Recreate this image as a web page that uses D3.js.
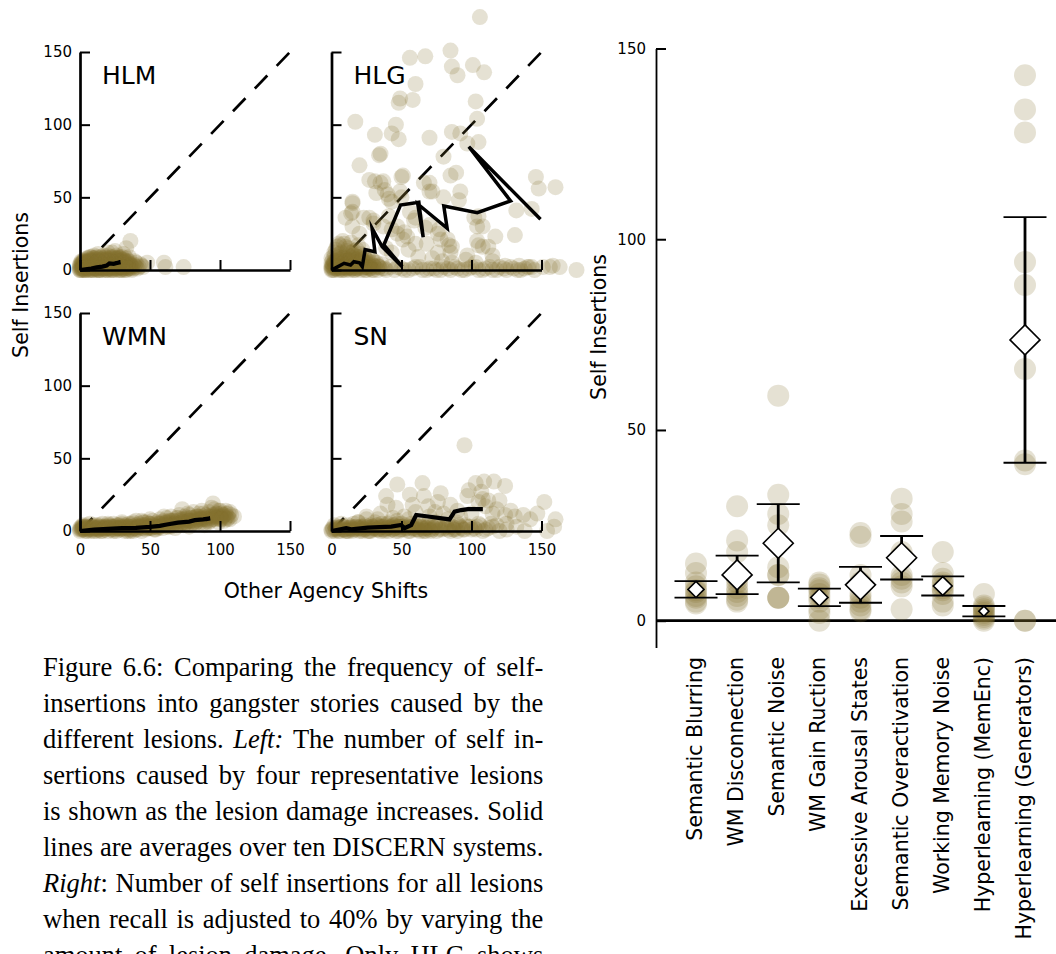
<!DOCTYPE html>
<html>
<head>
<meta charset="utf-8">
<script src="https://cdn.jsdelivr.net/npm/d3@7"></script>
<style>
  html, body { margin: 0; padding: 0; background: #fff; }
  svg { display: block; }
</style>
</head>
<body>
<svg id="fig" width="1056" height="954"></svg>
<script>
// ---------- Left: self insertions vs. other agency shifts, one panel per lesion ----------
const panelNames = ["HLM", "HLG", "WMN", "SN"];
const axisTicks = [0, 50, 100, 150];

// individual runs (other agency shifts, self insertions)
const hlmPoints = [
  [0,0],[1,1],[2,0],[3,2],[4,1],[5,3],[6,0],[7,2],[8,4],[9,1],[10,3],[11,5],[12,2],[13,0],[14,4],
  [15,6],[16,2],[17,1],[18,5],[19,3],[20,7],[21,2],[22,4],[23,0],[24,6],[25,3],[26,8],[27,1],[28,5],
  [29,3],[30,7],[31,2],[32,4],[33,0],[34,3],[35,6],[36,1],[38,4],[40,2],[42,2],[13,11],[23,12],
  [33,15],[36,20],[48,5],[60,5],[61,2],[74,2],[2,6],[5,8],[8,9],[3,4],[0,3],[1,5],[6,6],[10,8],
  [12,7],[15,9],[18,9],[20,10],[22,9],[26,10],[28,9],[9,6],[14,1],[19,0],[24,1],[29,0],[37,3],
  [39,6],[44,3],[4,2],[7,4],[11,1],[16,4],[21,5],[25,2],[30,1],
  [0,1],[1,0],[2,2],[3,0],[4,4],[5,1],[6,3],[7,0],[8,2],[9,4],[10,1],[11,3],[12,0],[13,5],[14,2],
  [15,4],[16,0],[17,3],[18,2],[19,5],[20,1],[21,3],[22,0],[23,5],[24,2],[25,4],[26,1],[27,6],[28,2],
  [29,4],[30,0],[31,5],[32,1],[33,3],[34,6],[35,2],[36,4],[37,0],[38,1],[39,3],[40,5],[41,1],[43,4],
  [45,2],[3,6],[6,8],[9,7],[12,9],[15,7],[18,7],[21,8],[24,9],[27,7],[30,9],[33,8],[20,12],[25,13],
  [17,10],[10,10],[7,9],[31,11],[35,9],[2,3],[5,5],[8,6],[11,7],[14,6],[17,5],[20,4],[23,3],[26,5],
  [29,6],[32,6],[1,3],[4,6],[7,7],[10,6],[13,8],[16,7],[19,8],[22,6],[25,7],[28,8],
  [0,2],[1,4],[2,1],[3,3],[4,0],[5,2],[6,4],[7,1],[8,3],[9,0],[10,2],[11,4],[12,1],[13,3],[14,0],
  [15,2],[16,4],[17,1],[18,3],[19,1],[20,3],[21,1],[22,3],[23,2],[24,4],[25,1],[26,3],[27,2],[28,4],
  [29,2],[30,4],[31,1],[32,3],[33,2],[34,4],[35,1],[36,3],[37,2],[0,4],[2,5],[4,5],[6,5],[8,5],
  [10,5],[12,5],[14,5],[16,6],[18,6],[20,6],[22,6],[24,5],[26,6],[28,6],[30,5],[32,5],[34,5],[1,6],
  [3,7],[5,6],[7,6],[9,8],[11,8],[13,6],[15,8],[17,8],[19,7],[21,7],[23,8],[25,8],[27,8],[29,8],
  [31,7],[33,6],[0,0],[2,1],[4,0],[6,1],[8,0],[10,0],[12,1],[14,0],[16,1],[18,0],[20,0],[22,1],
  [24,0],[26,0],[28,0],[30,2],[32,0],[34,1]
];
const hlgPoints = [
  [106,174],[56,146],[67,147],[85,151],[86,140],[90,134],[101,141],[109,136],[60,128],[49,118],
  [48,115],[58,117],[103,116],[17,102],[104,104],[46,100],[31,93],[43,94],[48,90],[70,91],[86,95],
  [92,94],[97,87],[105,88],[35,80],[34,79],[80,78],[20,72],[27,62],[31,61],[37,61],[35,60],[40,52],
  [43,47],[51,65],[50,64],[38,55],[66,60],[70,60],[72,54],[85,65],[89,67],[146,64],[148,56],
  [160,57],[15,47],[15,46],[14,39],[15,40],[32,53],[41,49],[49,54],[50,50],[56,40],[70,54],[80,50],
  [92,54],[91,48],[105,37],[102,36],[108,30],[132,41],[143,42],[27,36],[30,32],[23,36],[30,34],
  [41,37],[47,30],[52,26],[59,34],[60,36],[67,29],[70,31],[77,28],[76,25],[83,21],[78,21],[84,17],
  [86,16],[104,30],[117,23],[131,24],[108,16],[105,17],[112,16],[104,20],[60,18],[68,18],[76,12],
  [85,12],[97,10],[115,10],[51,21],[54,23],[37,30],[43,28],[47,25],[10,36],[15,30],[20,25],[5,18],
  [10,16],[15,12],[39,15],[43,12],[55,14],[62,9],[72,8],[79,6],[86,5],[96,7],[103,5],[115,6],
  [124,3],[134,3],[141,2],[151,2],[158,3],
  [0,0],[1,2],[2,5],[3,1],[4,8],[5,3],[6,11],[7,6],[8,2],[9,9],[10,4],[11,13],[12,1],[13,7],[14,3],
  [15,10],[16,5],[18,2],[20,6],[22,3],[24,8],[3,14],[6,17],[8,20],[2,10],[0,5],[1,7],[5,0],[10,0],
  [12,15],[16,13],[18,9],[21,11],[25,5],[28,2],[30,6],[33,3],
  [0,2],[1,4],[2,1],[3,6],[4,3],[5,9],[6,4],[7,12],[8,6],[9,1],[10,8],[11,3],[12,10],[13,4],[14,12],
  [15,1],[16,8],[17,4],[18,14],[19,6],[20,3],[21,8],[22,14],[23,5],[24,2],[26,9],[27,4],[29,7],
  [4,16],[9,18],[14,19],[19,17],[2,12],[0,8],[1,0],[3,3],[5,5],[7,1],[9,4],[11,6],[13,2],[17,1],
  [0,1],[1,3],[2,6],[3,2],[4,5],[5,7],[6,2],[7,4],[8,8],[9,5],[10,2],[11,7],[12,4],[13,9],[14,6],
  [15,4],[16,10],[17,7],[18,5],[19,3],[20,9],[21,5],[22,7],[23,10],[24,5],[25,2],[26,6],[27,3],
  [28,5],[30,3],[32,5],[34,2],[36,4],[0,3],[2,3],[4,6],[6,7],[8,4],[10,6],[12,6],[14,8],[16,3],
  [18,7],[20,4],
  [2,0],[4,1],[7,0],[9,2],[11,1],[13,0],[15,2],[17,0],[19,1],[21,0],[23,2],[25,0],[27,1],[29,0],
  [31,2],[33,0],[36,1],[39,0],[42,2],[45,0],[50,1],[55,0],[60,2],[65,0],[70,1],[75,0],[80,2],[85,0],
  [90,1],[95,0],[100,2],[105,0],[110,1],[115,0],[120,2],[125,0],[130,1],[135,0],[140,2],[145,0],
  [156,2],[163,2],[175,0],[6,1],[8,0],[12,2],[14,1],[16,0],[18,1],[20,2],[22,1],[24,0],[26,2],
  [28,1],[30,0],[34,2],[38,1],[47,2],[52,0],[58,1],[63,2],[68,0],[73,1],[78,0],[83,1],[88,2],[93,0],
  [98,1],[103,2],[108,0],[113,2],[118,0],[123,1],[128,2],[133,0],[138,1],[143,2]
];
const wmnPoints = [
  [0,0],[1,2],[2,4],[3,1],[4,3],[5,0],[6,2],[7,5],[8,1],[9,3],[10,0],[11,2],[12,4],[13,1],[14,3],
  [15,0],[16,5],[17,2],[18,1],[19,3],[20,0],[21,4],[22,2],[23,1],[24,5],[25,3],[26,0],[27,2],[28,4],
  [29,1],[30,6],[31,3],[32,1],[33,4],[34,2],[35,5],[36,0],[37,3],[38,6],[39,2],[40,4],[41,1],[42,5],
  [43,3],[44,7],[45,2],[46,4],[47,1],[48,6],[49,3],[50,5],[51,2],[52,7],[53,4],[54,1],[55,6],[56,3],
  [57,8],[58,5],[59,2],[60,7],[61,4],[62,9],[63,3],[64,6],[65,10],[66,4],[67,7],[68,2],[69,9],[70,5],
  [71,11],[72,8],[73,15],[74,4],[75,10],[76,6],[77,12],[78,3],[79,9],[80,7],[81,13],[82,5],[83,10],
  [84,8],[85,12],[86,6],[87,14],[88,9],[89,4],[90,11],[91,7],[92,13],[93,9],[94,16],[95,19],[96,8],
  [97,12],[98,10],[99,6],[100,14],[101,9],[102,11],[103,7],[104,14],[105,10],[106,12],[107,8],
  [108,11],[2,1],[5,2],[8,3],[12,2],[15,2],[18,3],[22,1],[25,1],[28,2],[32,2],[35,1],[38,2],
  [0,1],[3,3],[6,1],[9,2],[12,0],[14,1],[17,3],[20,2],[23,3],[26,2],[29,3],[32,0],[35,3],[38,0],
  [41,3],[44,2],[47,4],[50,2],[53,1],[56,5],[59,4],[62,3],[65,5],[68,6],[71,4],[74,8],[77,7],[80,5],
  [83,6],[86,9],[89,8],[92,6],[95,11],[98,9],[101,12],[104,9],[107,13],[110,10],[96,15],[88,12],
  [78,11],[70,9],[60,10],[50,8],[40,7],[30,5],[20,5],[10,4],[2,3],[5,4],[45,6],[55,3],[65,7],[75,5],
  [85,10],[99,14],[103,11],[1,1],[4,2],[7,2],[10,2],[13,3],[16,2],[19,2],[24,3],[27,4],[31,4],
  [34,3],[37,5],[42,4],[46,3],[49,5],[52,4],[57,5],[61,6],[64,7],[67,5],[72,7],[76,8],[79,7],[82,9],
  [87,8],[90,9],[94,10],[97,11],[100,10],
  [0,2],[2,2],[4,0],[6,3],[8,0],[10,3],[12,1],[14,4],[16,0],[18,2],[20,4],[22,3],[24,0],[26,4],
  [28,1],[30,2],[32,3],[34,0],[36,4],[38,3],[40,1],[42,3],[44,0],[46,6],[48,2],[50,3],[52,5],[54,3],
  [56,2],[58,6],[60,4],[62,6],[64,4],[66,7],[68,5],[70,7],[72,5],[74,6],[76,9],[78,7],[80,9],[82,7],
  [84,10],[86,8],[88,10],[90,8],[92,10],[94,8],[96,10],[98,12],[100,8],[102,10],[104,12],[106,9],
  [1,3],[5,1],[9,1],[13,2],[17,1],[21,2],[25,2],[29,2],[33,2],[37,1],[41,2],[45,4],[49,2],[53,3],
  [57,3],[61,5],[65,3],[69,4],[73,6],[77,5],[81,6],[85,7],[89,6],[93,7],[97,9],[101,8],[105,8]
];
const snPoints = [
  [0,0],[1,2],[2,4],[3,1],[4,3],[5,0],[6,2],[7,5],[8,1],[9,3],[10,0],[11,2],[12,4],[13,1],[14,3],
  [15,0],[16,5],[17,2],[18,1],[19,6],[20,0],[21,3],[22,2],[23,1],[24,4],[25,8],[26,0],[27,2],[28,4],
  [29,1],[30,3],[31,6],[32,1],[33,4],[34,2],[35,0],[36,5],[37,3],[38,1],[39,4],[40,2],[41,0],[42,6],
  [43,3],[44,1],[45,4],[46,2],[47,7],[48,0],[49,3],[50,5],[52,1],[54,3],[56,0],[58,2],[60,4],[62,1],
  [64,3],[66,0],[68,2],[70,1],[72,3],[75,0],[78,2],[80,4],[83,1],[86,3],[90,0],[93,2],[96,4],[100,1],
  [104,3],[108,0],[112,2],[118,4],[125,1],[132,3],[138,0],[154,0],
  [0,1],[2,0],[4,2],[6,0],[8,3],[10,1],[12,0],[14,2],[16,1],[18,3],[20,2],[22,0],[24,1],[26,3],
  [28,0],[30,2],[32,4],[34,1],[36,3],[38,0],[40,5],[42,2],[44,4],[46,0],[48,3],[50,1],[53,4],[55,2],
  [57,5],[59,1],[61,3],[63,0],[65,4],[67,2],[69,5],[71,0],[73,2],[76,4],[79,1],[82,3],[85,0],[88,2],
  [91,4],[94,1],[97,3],[102,2],[106,4],[110,1],[115,3],[120,0],
  [1,1],[3,2],[5,1],[7,3],[9,1],[11,0],[13,2],[15,1],[17,3],[19,2],[21,1],[23,3],[25,2],[27,0],
  [29,3],[31,2],[33,1],[35,3],[37,1],[39,2],[41,3],[43,1],[45,2],[47,3],[49,1],[51,3],[53,2],[55,0],
  [57,3],[59,2],[61,1],[63,3],[65,2],[67,0],[69,3],[72,1],[74,3],[77,1],[81,2],[84,3],[87,1],[92,3],
  [95,1],[99,3],[103,1],
  [47,32],[65,33],[78,26],[66,24],[76,20],[39,24],[40,18],[46,16],[56,25],[58,18],[69,17],[74,13],
  [80,12],[90,14],[103,33],[109,34],[116,34],[124,31],[107,27],[105,20],[112,21],[97,24],[115,12],
  [124,11],[131,10],[125,5],[114,5],[105,5],[25,10],[19,6],[33,8],[47,5],[62,6],[74,6],[89,6],[66,1],
  [88,1],[95,59],[152,20],[160,8],[159,3],[137,11],[147,12],[35,12],[52,10],[60,13],[85,18],[92,10],
  [100,12],[110,17],[118,15],[83,8],[70,10],[55,8],[44,9],[98,28],[108,22],[120,21],[128,14],[142,8]
];

// averages over ten systems as lesion damage grows
const hlmMean = [[0,0],[4,0.5],[8,1],[12,1.8],[16,2.3],[19,3],[21,4.5],[24,4.2],[27,5],[29,5.3],[25,4.6]];
const hlgMean = [[0,0],[4,2],[9,4.6],[13.6,3.4],[16,5.7],[20,5],[22,2.3],[24,14],[31,12.5],[29,28.7],
  [36.2,16],[50.5,2.3],[37.4,17.2],[49.3,44.7],[62.4,46.6],[65.5,22.5],[61.6,45.4],[82.6,28.7],
  [80.2,44],[104.1,39.4],[127.9,47.5],[98.1,84.8],[149.3,34.9]];
const wmnMean = [[0,0],[10,1],[20,1.5],[30,2],[40,2.2],[50,2.8],[57,3.5],[62,4.5],[70,5.8],[78,6.5],
  [82,7.5],[88,8],[93,8.7],[90,8.2]];
const snMean = [[0,0],[10.5,1.9],[14.1,1.2],[25.9,2.3],[42.6,3],[49.8,4.1],[52.1,1.9],[56.9,4.1],
  [60.5,11],[66.4,10.3],[84.3,8],[87.9,13.3],[92.6,14.4],[97.4,15.1],[108.1,15.1]];

// ---------- Right: self insertions per lesion at 40% recall ----------
const lesionNames = ["Semantic Blurring", "WM Disconnection", "Semantic Noise", "WM Gain Ruction",
  "Excessive Arousal States", "Semantic Overactivation", "Working Memory Noise",
  "Hyperlearning (MemEnc)", "Hyperlearning (Generators)"];
const lesionMeans = [8.2, 12.0, 20.3, 6.1, 9.4, 16.5, 9.1, 2.5, 73.6];
const lesionErrors = [2.15, 5.05, 10.25, 2.3, 4.7, 5.7, 2.5, 1.35, 32.2];
const lesionRuns = [
  [15, 12.5, 10, 9, 8, 7.5, 6.5, 6, 5, 4.5],
  [30, 21, 18, 11, 10, 8.5, 7.5, 6.5, 5.5, 5],
  [59, 33, 28, 25, 14, 12, 12, 6, 6, 6],
  [10, 9.5, 8.5, 8, 7, 6, 5, 3, 2, 0],
  [23, 22, 12, 10, 6, 7, 5, 4, 3, 2.5],
  [32, 28, 26, 18, 17, 12, 11, 10, 9, 3],
  [18, 12.5, 11, 10, 9.5, 8.5, 8, 7, 5, 4],
  [7, 4, 3.5, 3, 2.5, 2, 1.5, 1, 0.5, 0],
  [143, 134, 128, 94, 88, 66, 42, 41, 0, 0]
];

const captionLines = [
  "Figure 6.6: Comparing the frequency of self-",
  "insertions into gangster stories caused by the",
  "different lesions. _Left:_ The number of self in-",
  "sertions caused by four representative lesions",
  "is shown as the lesion damage increases. Solid",
  "lines are averages over ten DISCERN systems.",
  "_Right_: Number of self insertions for all lesions",
  "when recall is adjusted to 40% by varying the",
  "amount of lesion damage. Only HLG shows"
];

// ---------- drawing ----------
const svg = d3.select("#fig");
const sans = "'DejaVu Sans', 'Noto Sans', sans-serif";
const dotColor = "#86702f";
const dotAlpha = 0.21;

const panelPoints = [hlmPoints, hlgPoints, wmnPoints, snPoints];
const panelMeans = [hlmMean, hlgMean, wmnMean, snMean];
const panelOrigins = [[80, 270], [331.5, 270], [80, 531], [331.5, 531]];

function styleAxis(g, width) {
  g.select(".domain").attr("stroke", "#000").attr("stroke-width", width);
  g.selectAll(".tick line").attr("stroke", "#000").attr("stroke-width", 2);
  g.selectAll(".tick text").attr("fill", "#000").attr("font-family", sans).attr("font-size", 15);
}

panelNames.forEach((name, i) => {
  const [ox, oy] = panelOrigins[i];
  const x = d3.scaleLinear().domain([0, 150]).range([ox, ox + 210]);
  const y = d3.scaleLinear().domain([0, 150]).range([oy, oy - 218]);
  const g = svg.append("g").attr("class", "panel");

  // identity diagonal
  g.append("line")
    .attr("x1", x(0)).attr("y1", y(0)).attr("x2", x(150)).attr("y2", y(150))
    .attr("stroke", "#000").attr("stroke-width", 2.7).attr("stroke-dasharray", "18,13.5");

  g.append("g").selectAll("circle").data(panelPoints[i]).join("circle")
    .attr("cx", d => x(d[0])).attr("cy", d => y(d[1])).attr("r", 8)
    .attr("fill", dotColor).attr("fill-opacity", dotAlpha);

  g.append("path").datum(panelMeans[i])
    .attr("d", d3.line().x(d => x(d[0])).y(d => y(d[1])))
    .attr("fill", "none").attr("stroke", "#000").attr("stroke-width", i === 1 ? 3.5 : 4.2)
    .attr("stroke-linejoin", "miter").attr("stroke-miterlimit", 6);

  const bottomRow = i >= 2, leftCol = i % 2 === 0;
  const xAxis = d3.axisBottom(x).tickValues(axisTicks).tickSizeInner(-10).tickSizeOuter(0)
    .tickPadding(13.5).tickFormat(bottomRow ? d3.format("d") : () => "");
  const yAxis = d3.axisLeft(y).tickValues(axisTicks).tickSizeInner(-10).tickSizeOuter(0)
    .tickPadding(8).tickFormat(leftCol ? d3.format("d") : () => "");
  g.append("g").attr("transform", `translate(0,${oy})`).call(xAxis).call(a => styleAxis(a, 2.7));
  g.append("g").attr("transform", `translate(${ox},0)`).call(yAxis).call(a => styleAxis(a, 2.7));

  g.append("text").attr("x", ox + 22).attr("y", oy - 186)
    .attr("font-family", sans).attr("font-size", 25).text(name);
});

svg.append("text").attr("transform", "translate(28,285) rotate(-90)")
  .attr("text-anchor", "middle").attr("font-family", sans).attr("font-size", 20.5)
  .text("Self Insertions");
svg.append("text").attr("x", 326).attr("y", 598)
  .attr("text-anchor", "middle").attr("font-family", sans).attr("font-size", 20.5)
  .text("Other Agency Shifts");

// right chart
const ry = d3.scaleLinear().domain([-7, 150]).range([647.4, 48.5]);
const rx = d3.scalePoint().domain(lesionNames).range([696, 1025]);
const diamondHalf = d3.scaleLinear().domain([0, 4]).range([0, 15]).clamp(true);
const right = svg.append("g");

right.append("g").attr("transform", "translate(656,0)")
  .call(d3.axisLeft(ry).tickValues(axisTicks).tickSizeInner(-10).tickSizeOuter(0).tickPadding(10))
  .call(a => styleAxis(a, 1.8));
right.append("line").attr("x1", 656).attr("x2", 1056).attr("y1", ry(0)).attr("y2", ry(0))
  .attr("stroke", "#000").attr("stroke-width", 2.7);

lesionNames.forEach((name, i) => {
  const cx = rx(name);
  right.append("g").selectAll("circle").data(lesionRuns[i]).join("circle")
    .attr("cx", cx).attr("cy", d => ry(d)).attr("r", 11)
    .attr("fill", dotColor).attr("fill-opacity", dotAlpha);
});

lesionNames.forEach((name, i) => {
  const cx = rx(name);
  const m = lesionMeans[i], e = lesionErrors[i];
  const lo = ry(m - e), hi = ry(m + e);
  right.append("line").attr("x1", cx).attr("x2", cx).attr("y1", lo).attr("y2", hi)
    .attr("stroke", "#000").attr("stroke-width", 2.8);
  [lo, hi].forEach(yy => right.append("line")
    .attr("x1", cx - 21.5).attr("x2", cx + 21.5).attr("y1", yy).attr("y2", yy)
    .attr("stroke", "#000").attr("stroke-width", 1.8));
  const h = diamondHalf(e), cy = ry(m);
  right.append("path")
    .attr("d", `M${cx},${cy - h}L${cx + h},${cy}L${cx},${cy + h}L${cx - h},${cy}Z`)
    .attr("fill", "#fff").attr("stroke", "#000").attr("stroke-width", 1.6);
  right.append("text")
    .attr("transform", `translate(${cx + 6},657) rotate(-90)`)
    .attr("text-anchor", "end").attr("font-family", sans).attr("font-size", 20.5)
    .text(name);
});

svg.append("text").attr("transform", "translate(606,327) rotate(-90)")
  .attr("text-anchor", "middle").attr("font-family", sans).attr("font-size", 20.5)
  .text("Self Insertions");

// caption, fully justified between two margins; the last line runs past the bottom edge
const capLeft = 43, capRight = 543.3, capTop = 676, capLead = 36;
const serif = "'Liberation Serif', 'Times New Roman', serif";
const cap = svg.append("g").attr("font-family", serif).attr("font-size", 26.5).attr("fill", "#000");
captionLines.forEach((line, li) => {
  const yy = capTop + li * capLead;
  const words = line.split(" ").map(w => {
    const t = cap.append("text").attr("y", yy);
    w.split("_").forEach((part, k) => {
      if (part) t.append("tspan").attr("font-style", k % 2 ? "italic" : "normal").text(part);
    });
    return t;
  });
  const widths = words.map(t => t.node().getComputedTextLength());
  const total = d3.sum(widths);
  const gap = words.length > 1 ? (capRight - capLeft - total) / (words.length - 1) : 0;
  let xx = capLeft;
  words.forEach((t, k) => { t.attr("x", xx); xx += widths[k] + gap; });
});
</script>
</body>
</html>
